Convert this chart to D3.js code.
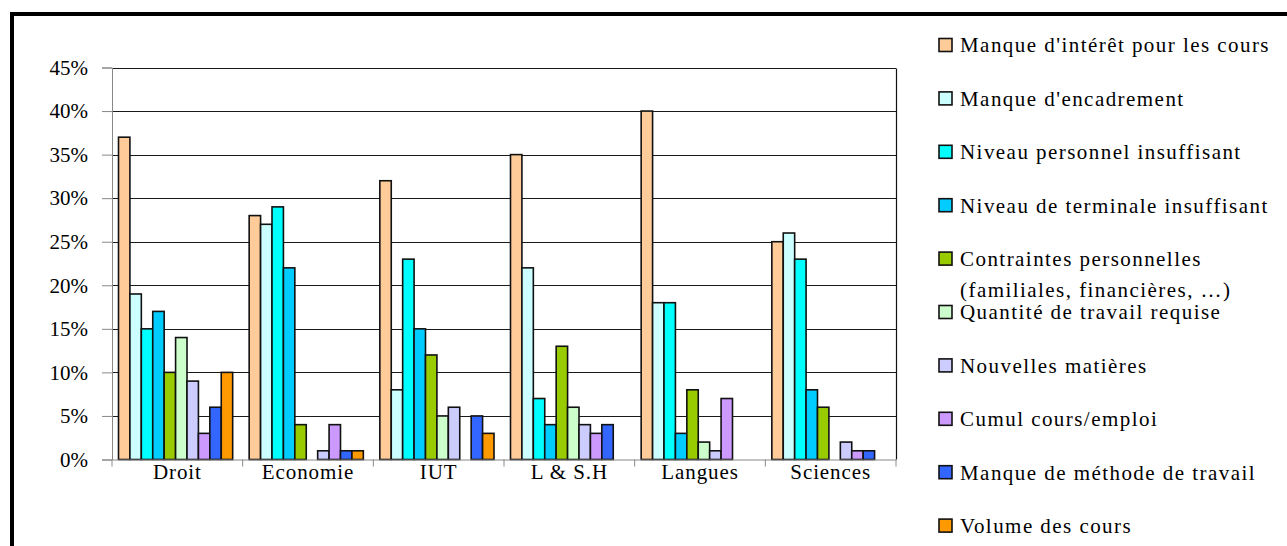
<!DOCTYPE html>
<html>
<head>
<meta charset="utf-8">
<script src="https://cdn.jsdelivr.net/npm/d3@7"></script>
<style>
  html, body { margin: 0; padding: 0; background: #fff; }
  svg { display: block; }
  svg text { font-family: 'Liberation Serif', 'Tinos', 'Times New Roman', 'DejaVu Serif', serif !important; fill: #000; }
</style>
</head>
<body>
<svg id="chart" width="1287" height="546"></svg>
<script>
const categories = ["Droit", "Economie", "IUT", "L & S.H", "Langues", "Sciences"];
const seriesNames = [
  "Manque d'intérêt pour les cours",
  "Manque d'encadrement",
  "Niveau personnel insuffisant",
  "Niveau de terminale insuffisant",
  "Contraintes personnelles\n(familiales, financières, …)",
  "Quantité de travail requise",
  "Nouvelles matières",
  "Cumul cours/emploi",
  "Manque de méthode de travail",
  "Volume des cours"
];
const seriesColors = ["#FFCC99", "#CCFFFF", "#00FFFF", "#00CCFF", "#99CC00",
                      "#CCFFCC", "#CCCCFF", "#CC99FF", "#3366FF", "#FF9900"];
// values in percent, one array per series, ordered as categories
const manqueInteret   = [37, 28, 32, 35, 40, 25];
const manqueEncadr    = [19, 27,  8, 22, 18, 26];
const niveauPerso     = [15, 29, 23,  7, 18, 23];
const niveauTerminale = [17, 22, 15,  4,  3,  8];
const contraintes     = [10,  4, 12, 13,  8,  6];
const quantiteTravail = [14,  0,  5,  6,  2,  0];
const nouvellesMat    = [ 9,  1,  6,  4,  1,  2];
const cumulEmploi     = [ 3,  4,  0,  3,  7,  1];
const manqueMethode   = [ 6,  1,  5,  4,  0,  1];
const volumeCours     = [10,  1,  3,  0,  0,  0];
const seriesValues = [manqueInteret, manqueEncadr, niveauPerso, niveauTerminale, contraintes,
                      quantiteTravail, nouvellesMat, cumulEmploi, manqueMethode, volumeCours];
const yTicks = [0, 5, 10, 15, 20, 25, 30, 35, 40, 45];

const svg = d3.select("#chart");
const FONT = 21;
const SERIF = "'Liberation Serif', 'Tinos', 'Times New Roman', 'DejaVu Serif', serif";

// outer frame (cropped: only left and top visible)
svg.append("line").attr("x1", 12).attr("x2", 12).attr("y1", 12).attr("y2", 546)
  .attr("stroke", "#000").attr("stroke-width", 4);
svg.append("line").attr("x1", 10).attr("x2", 1287).attr("y1", 14).attr("y2", 14)
  .attr("stroke", "#000").attr("stroke-width", 4);

const plot = { left: 112, right: 896, top: 67.5, bottom: 459.5 };

const x = d3.scaleBand().domain(categories).range([plot.left, plot.right]).padding(0);
const xs = d3.scaleBand().domain(d3.range(seriesNames.length))
  .range([6.5, x.bandwidth() - 10]).padding(0);
const y = d3.scaleLinear().domain([0, 45]).range([plot.bottom, plot.top]);

// gridlines
svg.append("g").selectAll("line").data(yTicks.filter(d => d > 0)).join("line")
  .attr("x1", plot.left).attr("x2", plot.right)
  .attr("y1", d => Math.round(y(d)) + 0.5).attr("y2", d => Math.round(y(d)) + 0.5)
  .attr("stroke", "#1a1a1a").attr("stroke-width", 1);
// right border of plot area
svg.append("line").attr("x1", plot.right + 0.5).attr("x2", plot.right + 0.5)
  .attr("y1", Math.round(y(45)) + 0.5).attr("y2", plot.bottom)
  .attr("stroke", "#111").attr("stroke-width", 1.2);

// bars
const groups = svg.append("g").selectAll("g").data(categories).join("g")
  .attr("transform", d => `translate(${x(d)},0)`);
groups.selectAll("rect")
  .data((c, ci) => seriesValues.map((vals, si) => ({ si, v: vals[ci] })).filter(d => d.v > 0))
  .join("rect")
  .attr("x", d => xs(d.si))
  .attr("width", xs.bandwidth())
  .attr("y", d => y(d.v))
  .attr("height", d => y(0) - y(d.v))
  .attr("fill", d => seriesColors[d.si])
  .attr("stroke", "#111").attr("stroke-width", 1.6);

// y axis
const yAxis = d3.axisLeft(y).tickValues(yTicks).tickFormat(d => d + "%").tickSize(10).tickPadding(14);
const gy = svg.append("g").attr("transform", `translate(${plot.left},0)`).call(yAxis)
  .attr("font-family", SERIF);
gy.select(".domain").attr("stroke", "#888");
gy.selectAll(".tick line").attr("stroke", "#888");
gy.selectAll(".tick text").attr("font-size", FONT).attr("font-family", SERIF).attr("fill", "#000");

// x axis
const xAxis = d3.axisBottom(x).tickSize(0).tickPadding(5);
const gx = svg.append("g").attr("transform", `translate(0,${plot.bottom})`).call(xAxis)
  .attr("font-family", SERIF);
gx.select(".domain").attr("stroke", "#888");
gx.selectAll(".tick text").attr("font-size", FONT).attr("font-family", SERIF).attr("fill", "#000")
  .attr("letter-spacing", "0.9px");
gx.append("g").selectAll("line").data(categories.concat(["__end"])).join("line")
  .attr("x1", (d, i) => plot.left + i * x.bandwidth()).attr("x2", (d, i) => plot.left + i * x.bandwidth())
  .attr("y1", 0).attr("y2", 7).attr("stroke", "#888");

// legend
const legend = svg.append("g").attr("transform", "translate(939,0)").attr("font-family", SERIF);
const items = legend.selectAll("g").data(seriesNames).join("g")
  .attr("transform", (d, i) => `translate(0,${45 + i * 53.4})`);
items.append("rect").attr("x", 0).attr("y", -6.5).attr("width", 13).attr("height", 13)
  .attr("fill", (d, i) => seriesColors[i]).attr("stroke", "#111").attr("stroke-width", 1.6);
items.append("text").attr("x", 21).attr("font-size", FONT).attr("font-family", SERIF)
  .attr("letter-spacing", "1.45px")
  .each(function (d) {
    const lines = d.split("\n");
    d3.select(this).selectAll("tspan").data(lines).join("tspan")
      .attr("x", 21).attr("y", (l, j) => j * 31).attr("dy", "0.35em").text(l => l);
  });
</script>
</body>
</html>
